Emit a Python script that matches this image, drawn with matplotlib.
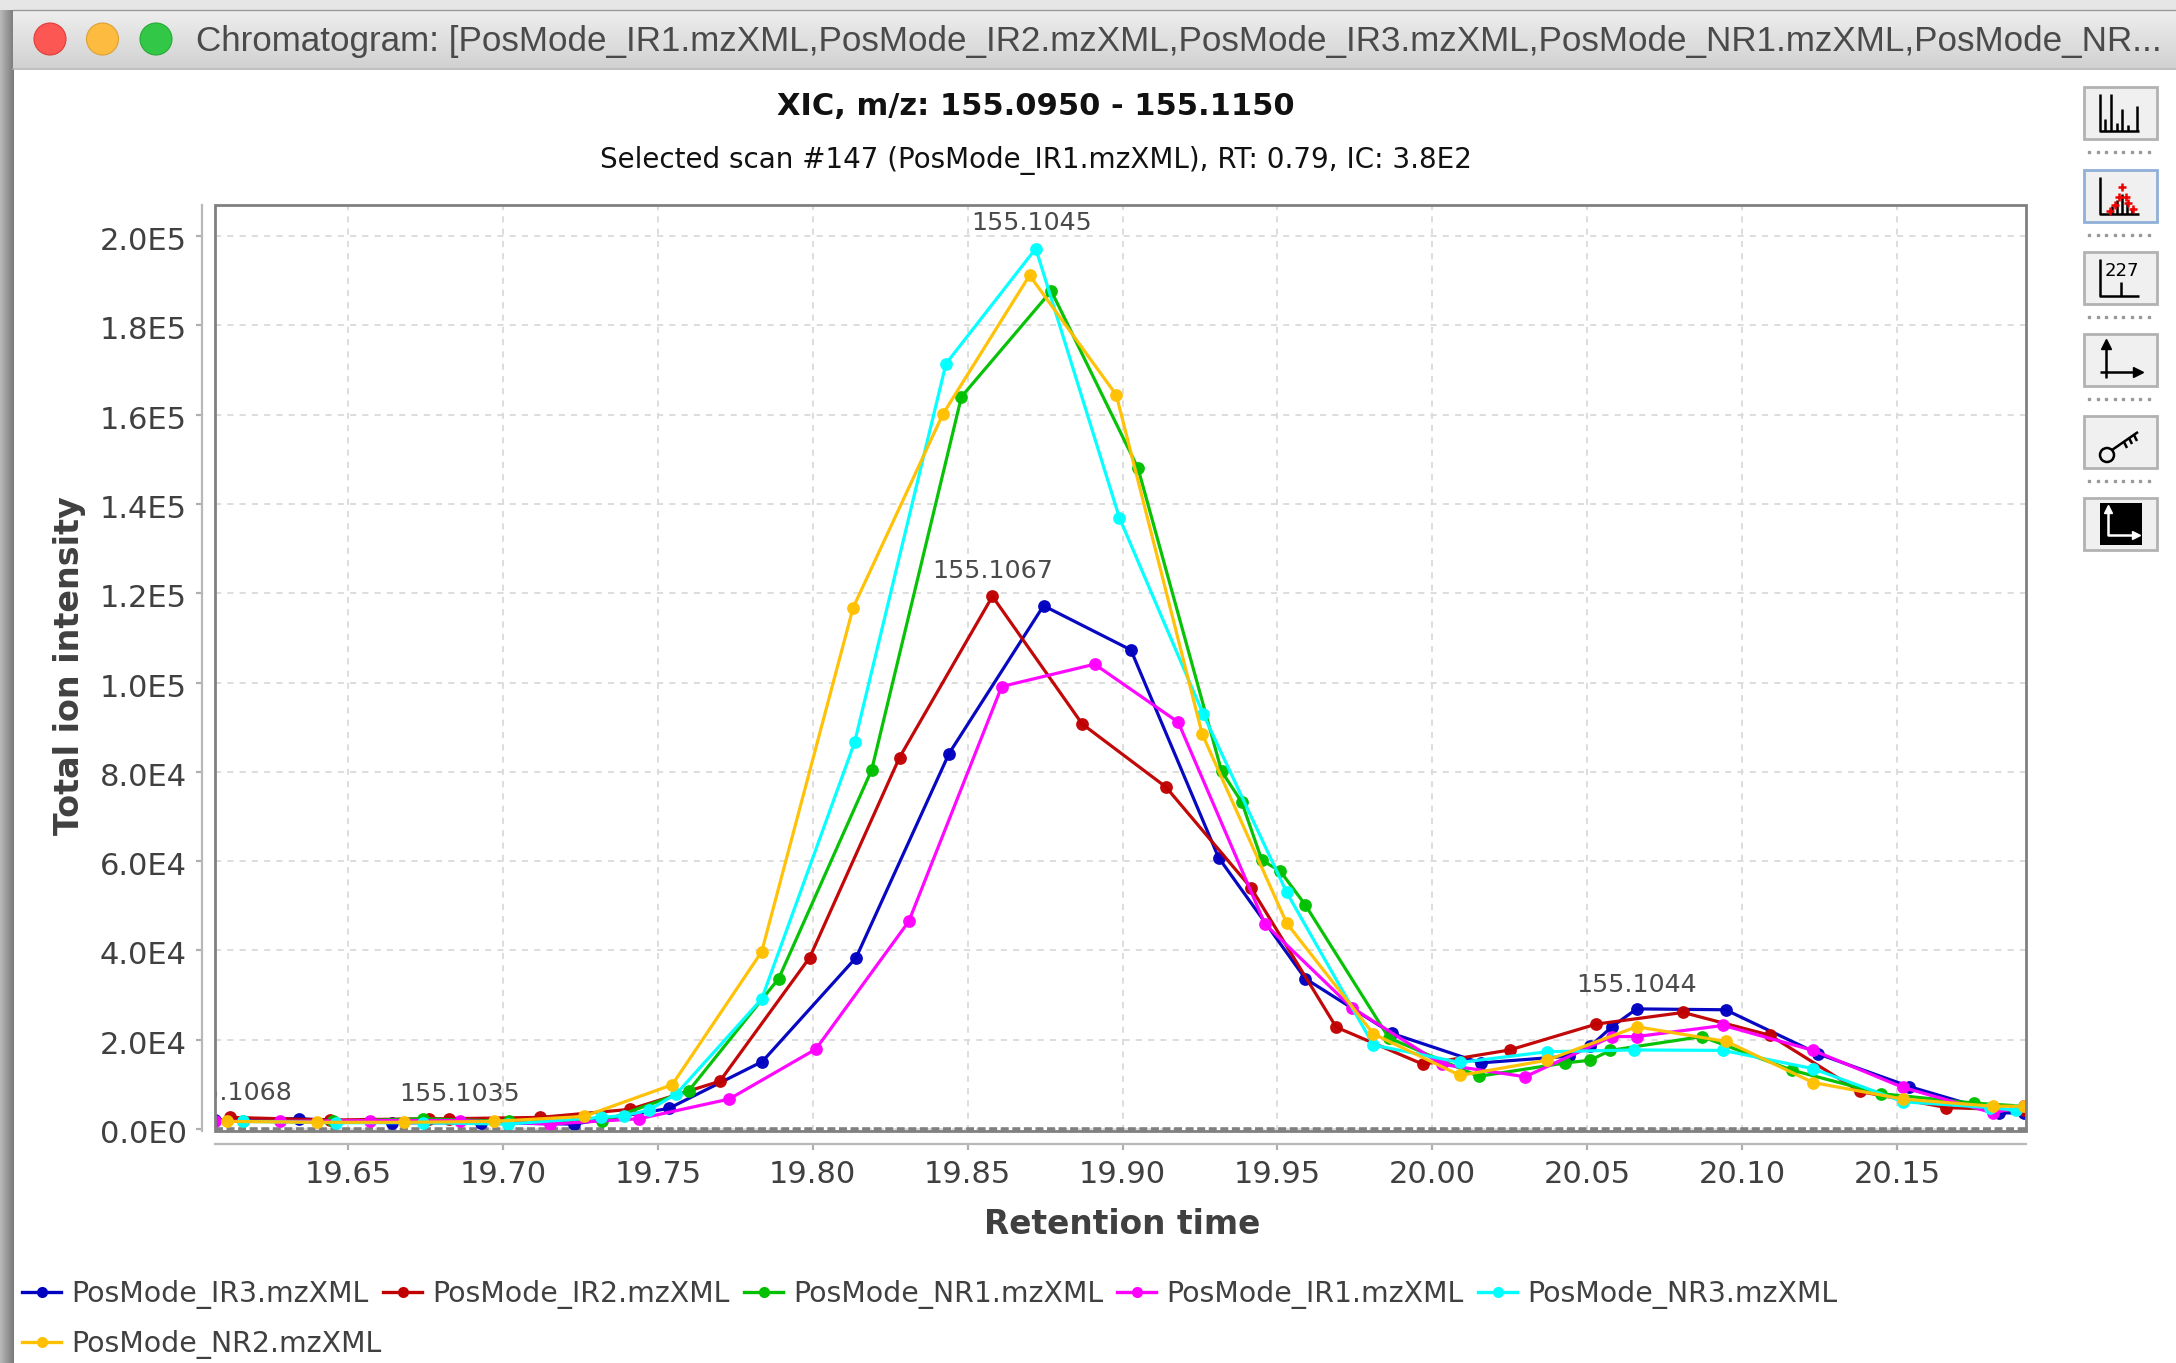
import numpy as np
import matplotlib
matplotlib.use("Agg")
import matplotlib.pyplot as plt
from matplotlib.patches import Rectangle, Circle
from matplotlib.transforms import ScaledTranslation

W, H = 2176, 1363

# ---------- data ----------
ir3_x = [19.607,19.634,19.664,19.693,19.723,19.7535,19.7837,19.814,19.844,19.8745,19.9027,19.931,19.959,19.987,20.0156,20.044,20.051,20.058,20.066,20.0947,20.1247,20.154,20.183,20.191]
ir3_y = [2000,2300,1400,1400,1100,4600,15100,38400,84100,117200,107300,60800,33700,21400,14800,16300,18500,22900,26900,26700,16800,9500,3600,3600]
ir2_x = [19.612,19.644,19.676,19.6825,19.712,19.741,19.770,19.799,19.828,19.858,19.887,19.914,19.9415,19.969,19.997,20.025,20.053,20.081,20.109,20.138,20.166,20.191]
ir2_y = [2600,2000,2300,2300,2600,4400,10700,38400,83200,119300,90700,76600,54000,22800,14500,17700,23500,26100,21000,8400,4800,4200]
nr1_x = [19.616,19.645,19.674,19.702,19.732,19.760,19.789,19.819,19.848,19.877,19.905,19.932,19.9385,19.945,19.951,19.959,19.986,20.015,20.043,20.051,20.0575,20.087,20.116,20.145,20.175,20.191]
nr1_y = [1700,1700,2300,1700,1700,8600,33700,80400,164000,187700,148000,80100,73200,60200,57700,50200,20400,11800,14800,15400,17600,20700,13200,7900,5800,5100]
ir1_x = [19.607,19.628,19.657,19.686,19.715,19.744,19.773,19.801,19.831,19.861,19.891,19.918,19.946,19.974,20.003,20.030,20.058,20.066,20.094,20.123,20.152,20.181,20.191]
ir1_y = [1700,1700,1900,1900,1100,2300,6700,17900,46500,99100,104100,91100,45900,27200,14500,11700,20700,20700,23200,17600,9300,3600,5100]
nr3_x = [19.616,19.646,19.674,19.7015,19.7315,19.739,19.747,19.756,19.7835,19.8135,19.843,19.872,19.899,19.926,19.953,19.981,20.009,20.037,20.065,20.094,20.123,20.152,20.180,20.1885]
nr3_y = [1700,1400,1400,1100,2600,3000,4200,7900,29100,86600,171400,197200,136900,93000,53000,18800,14900,17300,17700,17600,13500,6100,4800,4200]
nr2_x = [19.611,19.640,19.668,19.697,19.726,19.7546,19.7835,19.813,19.842,19.870,19.898,19.9257,19.953,19.981,20.009,20.037,20.066,20.095,20.123,20.152,20.181,20.191]
nr2_y = [1700,1500,1500,1700,2800,9900,39700,116700,160100,191200,164400,88500,46100,21300,12000,15400,22900,19600,10400,6700,5100,5100]

series_names = ["PosMode_IR3.mzXML","PosMode_IR2.mzXML","PosMode_NR1.mzXML","PosMode_IR1.mzXML","PosMode_NR3.mzXML","PosMode_NR2.mzXML"]
series_colors = ["#0000C0","#C00000","#00C000","#FF00FF","#00FFFF","#FFC000"]
series_x = [ir3_x, ir2_x, nr1_x, ir1_x, nr3_x, nr2_x]
series_y = [ir3_y, ir2_y, nr1_y, ir1_y, nr3_y, nr2_y]

x_ticks = [19.65,19.70,19.75,19.80,19.85,19.90,19.95,20.00,20.05,20.10,20.15]
x_tick_labels = ["19.65","19.70","19.75","19.80","19.85","19.90","19.95","20.00","20.05","20.10","20.15"]
y_ticks = [0,20000,40000,60000,80000,100000,120000,140000,160000,180000,200000]
y_tick_labels = ["0.0E0","2.0E4","4.0E4","6.0E4","8.0E4","1.0E5","1.2E5","1.4E5","1.6E5","1.8E5","2.0E5"]

peak_labels = ["155.1045","155.1067","155.1044","155.1035","155.1068"]
peak_x = [19.8705,19.858,20.066,19.686,19.6125]
peak_y = [203000,125000,32300,7900,8100]

title_text = "XIC, m/z: 155.0950 - 155.1150"
subtitle_text = "Selected scan #147 (PosMode_IR1.mzXML), RT: 0.79, IC: 3.8E2"
window_title = "Chromatogram: [PosMode_IR1.mzXML,PosMode_IR2.mzXML,PosMode_IR3.mzXML,PosMode_NR1.mzXML,PosMode_NR..."

# ---------- figure and chrome ----------
plt.rcParams['font.family'] = ['DejaVu Sans']
fig = plt.figure(figsize=(W/100, H/100), dpi=100, facecolor="white")
ch = fig.add_axes([0, 0, 1, 1], zorder=0)
ch.set_xlim(0, W); ch.set_ylim(H, 0); ch.axis("off")

# desktop/shadow strips
ch.imshow(np.linspace(0.72, 0.48, 14)[None, :], extent=(0, 14, H, 0), cmap="gray", vmin=0, vmax=1, aspect="auto", zorder=1)
ch.add_patch(Rectangle((0, 0), W, 10, fc="#e6e6e6", ec="none", zorder=1))
# title bar
ch.imshow(np.linspace(0.93, 0.82, 58)[:, None], extent=(13, W, 68, 10), cmap="gray", vmin=0, vmax=1, aspect="auto", zorder=2)
ch.plot([13, W], [68.5, 68.5], color="#b4b4b4", lw=1.2, zorder=3)
ch.plot([13, W], [9.5, 9.5], color="#9a9a9a", lw=1.0, zorder=3)
ch.set_xlim(0, W); ch.set_ylim(H, 0)
for cx, c, e in [(50, "#FC5753", "#DF3D38"), (102.5, "#FDBC40", "#DE9F34"), (156, "#33C748", "#27AA35")]:
    ch.add_patch(Circle((cx, 39), 16, fc=c, ec=e, lw=0.8, zorder=4))
ch.text(196, 42, window_title, family="Liberation Sans", fontsize=25.17, color="#4a4a4a", ha="left", va="center", zorder=4)

ch.text(1036, 106.5, title_text, fontsize=22, fontweight="bold", color="#111111", ha="center", va="center")
ch.text(1036, 160.5, subtitle_text, fontsize=20, color="#111111", ha="center", va="center")
ch.text(1122, 1224, "Retention time", fontsize=23.7, fontweight="bold", color="#404040", ha="center", va="center")
ch.text(70, 666, "Total ion intensity", fontsize=24, fontweight="bold", color="#404040", ha="center", va="center", rotation=90)

# ---------- plot ----------
L, R, T, B = 215, 2026, 205, 1131
ax = fig.add_axes([L/W, 1-B/H, (R-L)/W, (B-T)/H], zorder=2)
ax.set_facecolor("white")
ax.set_xlim(19.607, 20.1917)
ax.set_ylim(-450, 206950)
ax.grid(True, color="#dadada", lw=1.3, ls=(0, (3.4, 3.4)))
ax.set_axisbelow(True)
ax.axhline(0, color="#808080", lw=2.6, ls=(0, (2.2, 1)), zorder=1.5)
for xs, ys, c, n in zip(series_x, series_y, series_colors, series_names):
    ax.plot(xs, ys, color=c, lw=2.3, marker="o", ms=9.2, mec=c, mew=0, label=n, clip_on=True, alpha=0.97)
for s, x, y in zip(peak_labels, peak_x, peak_y):
    ax.text(x, y, s, fontsize=18.2, color="#4a4a4a", ha="center", va="center", clip_on=True)

for s in ("top", "right"):
    ax.spines[s].set_visible(False)
ax.spines["left"].set_position(("outward", 9.4))
ax.spines["bottom"].set_position(("outward", 9.4))
for s in ("left", "bottom"):
    ax.spines[s].set_color("#b8b8b8")
    ax.spines[s].set_linewidth(1.6)
ax.set_xticks(x_ticks, x_tick_labels)
ax.set_yticks(y_ticks, y_tick_labels)
ax.tick_params(axis="both", labelsize=22, labelcolor="#404040", color="#b0b0b0", width=1.6, length=4.5)
ax.tick_params(axis="x", pad=7)
ax.tick_params(axis="y", pad=6.5)
ax.grid(True, color="#dadada", lw=1.3, ls=(0, (3.4, 3.4)))
shift = ScaledTranslation(0, -0.025, fig.dpi_scale_trans)
for lab in ax.get_yticklabels():
    lab.set_transform(lab.get_transform() + shift)
ax.add_patch(Rectangle((0, 0), 1, 1, transform=ax.transAxes, fill=False, ec="#808080", lw=2.0, clip_on=False, zorder=6))

# ---------- legend ----------
leg_x = [22, 383, 744, 1117, 1478, 22]
leg_y = [1292, 1292, 1292, 1292, 1292, 1342]
for lx, ly, c, n in zip(leg_x, leg_y, series_colors, series_names):
    ch.plot([lx, lx+39], [ly, ly], color=c, lw=2.4, zorder=3)
    ch.plot([lx+19.5], [ly], "o", color=c, ms=8, mew=0, zorder=3)
    ch.text(lx+49, ly+2.5, n, fontsize=20.4, color="#404040", ha="left", va="center")

# ---------- toolbar ----------
btn_tops = [87, 170, 252, 334, 416, 498]
for i, t in enumerate(btn_tops):
    ch.add_patch(Rectangle((2084, t), 73, 52, fc="#f0f0f0", ec="#8fb0d8" if i == 1 else "#b2b2b2", lw=2.0, zorder=3))
    if i < 5:
        ch.plot(np.arange(2089, 2150, 8.5), [t+65]*8, ls="none", marker="s", ms=1.5, color="#999999", zorder=3)
k = dict(color="black", lw=1.8, zorder=4, solid_capstyle="butt")
def axes_icon(t, x0=2100, x1=2139, top=7, bot=44):
    ch.plot([x0, x0, x1], [t+top, t+bot, t+bot], **k)
# 1 spectrum
t = btn_tops[0]; axes_icon(t)
for xb, h in [(2105, 12), (2111, 37), (2117, 8), (2122, 22), (2128, 6), (2137, 25)]:
    ch.plot([xb, xb], [t+44, t+44-h], **k)
# 2 peaks with red crosses
t = btn_tops[1]; axes_icon(t)
for xb, h in [(2112, 8), (2117, 14), (2122, 20), (2127, 12), (2132, 6)]:
    ch.plot([xb, xb], [t+44, t+44-h], **k)
for xb, yb in [(2110, 41), (2115, 35), (2119, 27), (2126, 27), (2122, 17), (2128, 33), (2133, 39)]:
    ch.plot([xb], [t+yb], "+", color="#ee0000", ms=6, mew=1.8, zorder=5)
# 3 label 227
t = btn_tops[2]; axes_icon(t)
ch.plot([2121, 2121], [t+44, t+30], **k)
ch.text(2122, t+19, "227", fontsize=13, color="black", ha="center", va="center", zorder=5)
# 4 axes arrows
t = btn_tops[3]
ch.plot([2106, 2106], [t+8, t+44], **k); ch.plot([2100, 2139], [t+38, t+38], **k)
ch.plot([2106], [t+10], "^", color="black", ms=7, zorder=4); ch.plot([2138], [t+38], ">", color="black", ms=7, zorder=4)
# 5 key
t = btn_tops[4]
ch.add_patch(Circle((2107, t+39), 7, fc="none", ec="black", lw=1.8, zorder=4))
ch.plot([2112, 2138], [t+34, t+16], **k)
for xb, yb in [(2124, 26), (2129, 22), (2134, 19)]:
    ch.plot([xb, xb+3], [t+yb, t+yb+6], **k)
# 6 black axes
t = btn_tops[5]
ch.add_patch(Rectangle((2100, t+5), 42, 42, fc="black", ec="none", zorder=4))
w = dict(color="white", lw=1.8, zorder=5)
ch.plot([2108, 2108, 2137], [t+10, t+37, t+37], **w)
ch.plot([2108], [t+11], "^", color="white", ms=6, zorder=5); ch.plot([2136], [t+37], ">", color="white", ms=6, zorder=5)

fig.savefig("out.png", dpi=100, facecolor="white")
